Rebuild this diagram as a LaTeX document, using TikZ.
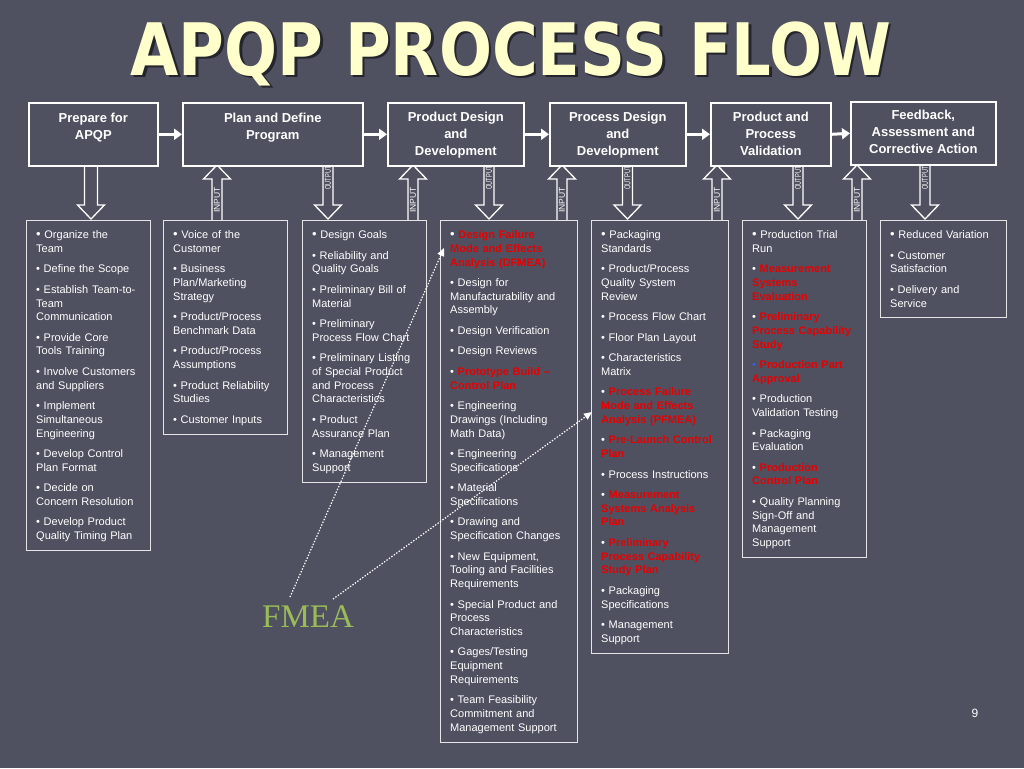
\documentclass[tikz,border=0pt]{standalone}
\usepackage{graphicx}
\usepackage{fontspec}
\setmainfont{Liberation Sans}
\newfontfamily\titlefont{DejaVu Sans}
\newfontfamily\fmeafont{Liberation Serif}
\usetikzlibrary{arrows.meta}
\definecolor{bg}{RGB}{79,81,96}
\definecolor{titlecol}{RGB}{255,255,204}
\definecolor{titleshadow}{RGB}{36,36,44}
\definecolor{apqpred}{RGB}{232,0,0}
\definecolor{fmeacol}{RGB}{155,187,89}
\definecolor{blbul}{RGB}{60,90,230}
\newcommand{\rd}[1]{{\color{apqpred}\bfseries #1}}
\newcommand{\itemgap}{\\[6.8pt]}
\newcommand{\bigbul}{{\fontsize{13}{13.7}\selectfont •}}
\tikzset{
  blockarrow/.style={draw=white, line width=1.3pt, fill=bg, line join=miter},
  arrlabel/.style={text=white, font=\fontsize{8.5}{9}\selectfont, rotate=90, inner sep=0pt},
  pics/outarrow/.style={code={
    \draw[blockarrow] (-5,0) -- (-5,40) -- (-13.5,40) -- (0,54) -- (13.5,40) -- (5,40) -- (5,0);
    \node[arrlabel] (-lab) at (0,13) {\scalebox{0.66}[1]{OUTPUT}};
  }},
  pics/inarrow/.style={code={
    \draw[blockarrow] (-5,55) -- (-5,14) -- (-13.5,14) -- (0,0) -- (13.5,14) -- (5,14) -- (5,55);
    \node[arrlabel] (-lab) at (0,35) {INPUT};
  }},
  pics/bigdown/.style={code={
    \draw[blockarrow] (-6.5,0) -- (-6.5,40) -- (-13.5,40) -- (0,54) -- (13.5,40) -- (6.5,40) -- (6.5,0);
  }},
}
\begin{document}
\begin{tikzpicture}[x=1pt,y=-1pt,
  topbox/.style={draw=white, line width=1.6pt, fill=bg, inner sep=0pt, anchor=north west},
  toptext/.style={text=white, font=\fontsize{13}{17}\selectfont\bfseries, align=center, anchor=north, inner sep=0pt},
  listbox/.style={draw=white!85!bg, line width=1.3pt, inner sep=0pt, anchor=north west},
  listtext/.style={text=white, font=\fontsize{11}{13.7}\selectfont, align=left, anchor=north west, inner sep=0pt, text width=140pt},
  flow/.style={draw=white, line width=3pt, -{Triangle[length=8pt,width=11pt]}},
  fmealink/.style={draw=white, line width=1.2pt, dash pattern=on 1.4pt off 1.6pt, -{Triangle[length=8pt,width=7pt]}},
]
\fill[bg] (0,0) rectangle (1024,768);
\useasboundingbox (0,0) rectangle (1024,768);

% title
\node[font=\titlefont\bfseries\fontsize{62.4}{70}\selectfont, text=titleshadow, anchor=base, inner sep=0pt] (titleshadow) at (513.5,77.5) {\scalebox{1}[1.16]{APQP PROCESS FLOW}};
\node[font=\titlefont\bfseries\fontsize{62.4}{70}\selectfont, text=titlecol, anchor=base, inner sep=0pt] (title) at (511,75) {\scalebox{1}[1.16]{APQP PROCESS FLOW}};

% block arrows
\pic (d1) at (91,165) {bigdown};
\pic (i2) at (217,165) {inarrow};
\pic (o2) at (328,165) {outarrow};
\pic (i3) at (413,165) {inarrow};
\pic (o3) at (489,165) {outarrow};
\pic (i4) at (562,165) {inarrow};
\pic (o4) at (627.5,165) {outarrow};
\pic (i5) at (717,165) {inarrow};
\pic (o5) at (798,165) {outarrow};
\pic (i6) at (857,165) {inarrow};
\pic (o6) at (925,165) {outarrow};

% list boxes
\node[listbox, minimum width=124, minimum height=330] (l1) at (26,220) {};
\node[listbox, minimum width=124, minimum height=214] (l2) at (163,220) {};
\node[listbox, minimum width=124, minimum height=262] (l3) at (302,220) {};
\node[listbox, minimum width=137, minimum height=522] (l4) at (440,220) {};
\node[listbox, minimum width=137, minimum height=433] (l5) at (591,220) {};
\node[listbox, minimum width=124, minimum height=337] (l6) at (742,220) {};
\node[listbox, minimum width=126, minimum height=97] (l7) at (880,220) {};

% top boxes
\node[topbox, minimum width=129, minimum height=63] (b1) at (28,102) {};
\node[topbox, minimum width=180, minimum height=63] (b2) at (182,102) {};
\node[topbox, minimum width=136, minimum height=63] (b3) at (387,102) {};
\node[topbox, minimum width=136, minimum height=63] (b4) at (549,102) {};
\node[topbox, minimum width=120, minimum height=63] (b5) at (710,102) {};
\node[topbox, minimum width=145, minimum height=63] (b6) at (850,101) {};

\node[toptext] (t1) at ([yshift=-10.5pt]b1.north) {Prepare for\\APQP};
\node[toptext] (t2) at ([yshift=-10.5pt]b2.north) {Plan and Define\\Program};
\node[toptext] (t3) at ([yshift=-9.5pt]b3.north) {Product Design\\and\\Development};
\node[toptext] (t4) at ([yshift=-9.5pt]b4.north) {Process Design\\and\\Development};
\node[toptext] (t5) at ([yshift=-9.5pt]b5.north) {Product and\\Process\\Validation};
\node[toptext] (t6) at ([yshift=-9pt]b6.north) {Feedback,\\Assessment and\\Corrective Action};

\draw[flow] (b1.east) -- (b2.west);
\draw[flow] (b2.east) -- (b3.west);
\draw[flow] (b3.east) -- (b4.west);
\draw[flow] (b4.east) -- (b5.west);
\draw[flow] (b5.east) -- (b6.west);

% list texts
\node[listtext] (x1) at (36,230.5) {%
\bigbul\ Organize the\\Team\itemgap
• Define the Scope\itemgap
• Establish Team-to-\\Team\\Communication\itemgap
• Provide Core\\Tools Training\itemgap
• Involve Customers\\and Suppliers\itemgap
• Implement\\Simultaneous\\Engineering\itemgap
• Develop Control\\Plan Format\itemgap
• Decide on\\Concern Resolution\itemgap
• Develop Product\\Quality Timing Plan};

\node[listtext] (x2) at (173,230.5) {%
\bigbul\ Voice of the\\Customer\itemgap
• Business\\Plan/Marketing\\Strategy\itemgap
• Product/Process\\Benchmark Data\itemgap
• Product/Process\\Assumptions\itemgap
• Product Reliability\\Studies\itemgap
• Customer Inputs};

\node[listtext] (x3) at (312,230.5) {%
\bigbul\ Design Goals\itemgap
• Reliability and\\Quality Goals\itemgap
• Preliminary Bill of\\Material\itemgap
• Preliminary\\Process Flow Chart\itemgap
• Preliminary Listing\\of Special Product\\and Process\\Characteristics\itemgap
• Product\\Assurance Plan\itemgap
• Management\\Support};

\node[listtext] (x4) at (450,230.5) {%
\bigbul\ \rd{Design Failure}\\\rd{Mode and Effects}\\\rd{Analysis (DFMEA)}\itemgap
• Design for\\Manufacturability and\\Assembly\itemgap
• Design Verification\itemgap
• Design Reviews\itemgap
• \rd{Prototype Build –}\\\rd{Control Plan}\itemgap
• Engineering\\Drawings (Including\\Math Data)\itemgap
• Engineering\\Specifications\itemgap
• Material\\Specifications\itemgap
• Drawing and\\Specification Changes\itemgap
• New Equipment,\\Tooling and Facilities\\Requirements\itemgap
• Special Product and\\Process\\Characteristics\itemgap
• Gages/Testing\\Equipment\\Requirements\itemgap
• Team Feasibility\\Commitment and\\Management Support};

\node[listtext] (x5) at (601,230.5) {%
\bigbul\ Packaging\\Standards\itemgap
• Product/Process\\Quality System\\Review\itemgap
• Process Flow Chart\itemgap
• Floor Plan Layout\itemgap
• Characteristics\\Matrix\itemgap
• \rd{Process Failure}\\\rd{Mode and Effects}\\\rd{Analysis (PFMEA)}\itemgap
• \rd{Pre-Launch Control}\\\rd{Plan}\itemgap
• Process Instructions\itemgap
• \rd{Measurement}\\\rd{Systems Analysis}\\\rd{Plan}\itemgap
• \rd{Preliminary}\\\rd{Process Capability}\\\rd{Study Plan}\itemgap
• Packaging\\Specifications\itemgap
• Management\\Support};

\node[listtext] (x6) at (752,230.5) {%
\bigbul\ Production Trial\\Run\itemgap
• \rd{Measurement}\\\rd{Systems}\\\rd{Evaluation}\itemgap
• \rd{Preliminary}\\\rd{Process Capability}\\\rd{Study}\itemgap
{\color{blbul}•} \rd{Production Part}\\\rd{Approval}\itemgap
• Production\\Validation Testing\itemgap
• Packaging\\Evaluation\itemgap
• \rd{Production}\\\rd{Control Plan}\itemgap
• Quality Planning\\Sign-Off and\\Management\\Support};

\node[listtext] (x7) at (890,230.5) {%
\bigbul\ Reduced Variation\itemgap
• Customer\\Satisfaction\itemgap
• Delivery and\\Service};

% FMEA and links
\node[font=\fmeafont\fontsize{33}{36}\selectfont, text=fmeacol] (fmea) at (308,616.5) {FMEA};
\coordinate (dfmea) at (444,248);
\coordinate (pfmea) at (592,412);
\draw[fmealink] ([xshift=-18pt,yshift=5pt]fmea.north) -- (dfmea);
\draw[fmealink] ([xshift=25pt,yshift=3pt]fmea.north) -- (pfmea);

\node[text=white, font=\fontsize{12}{14}\selectfont] (pg) at (975,713) {9};
\end{tikzpicture}
\end{document}
